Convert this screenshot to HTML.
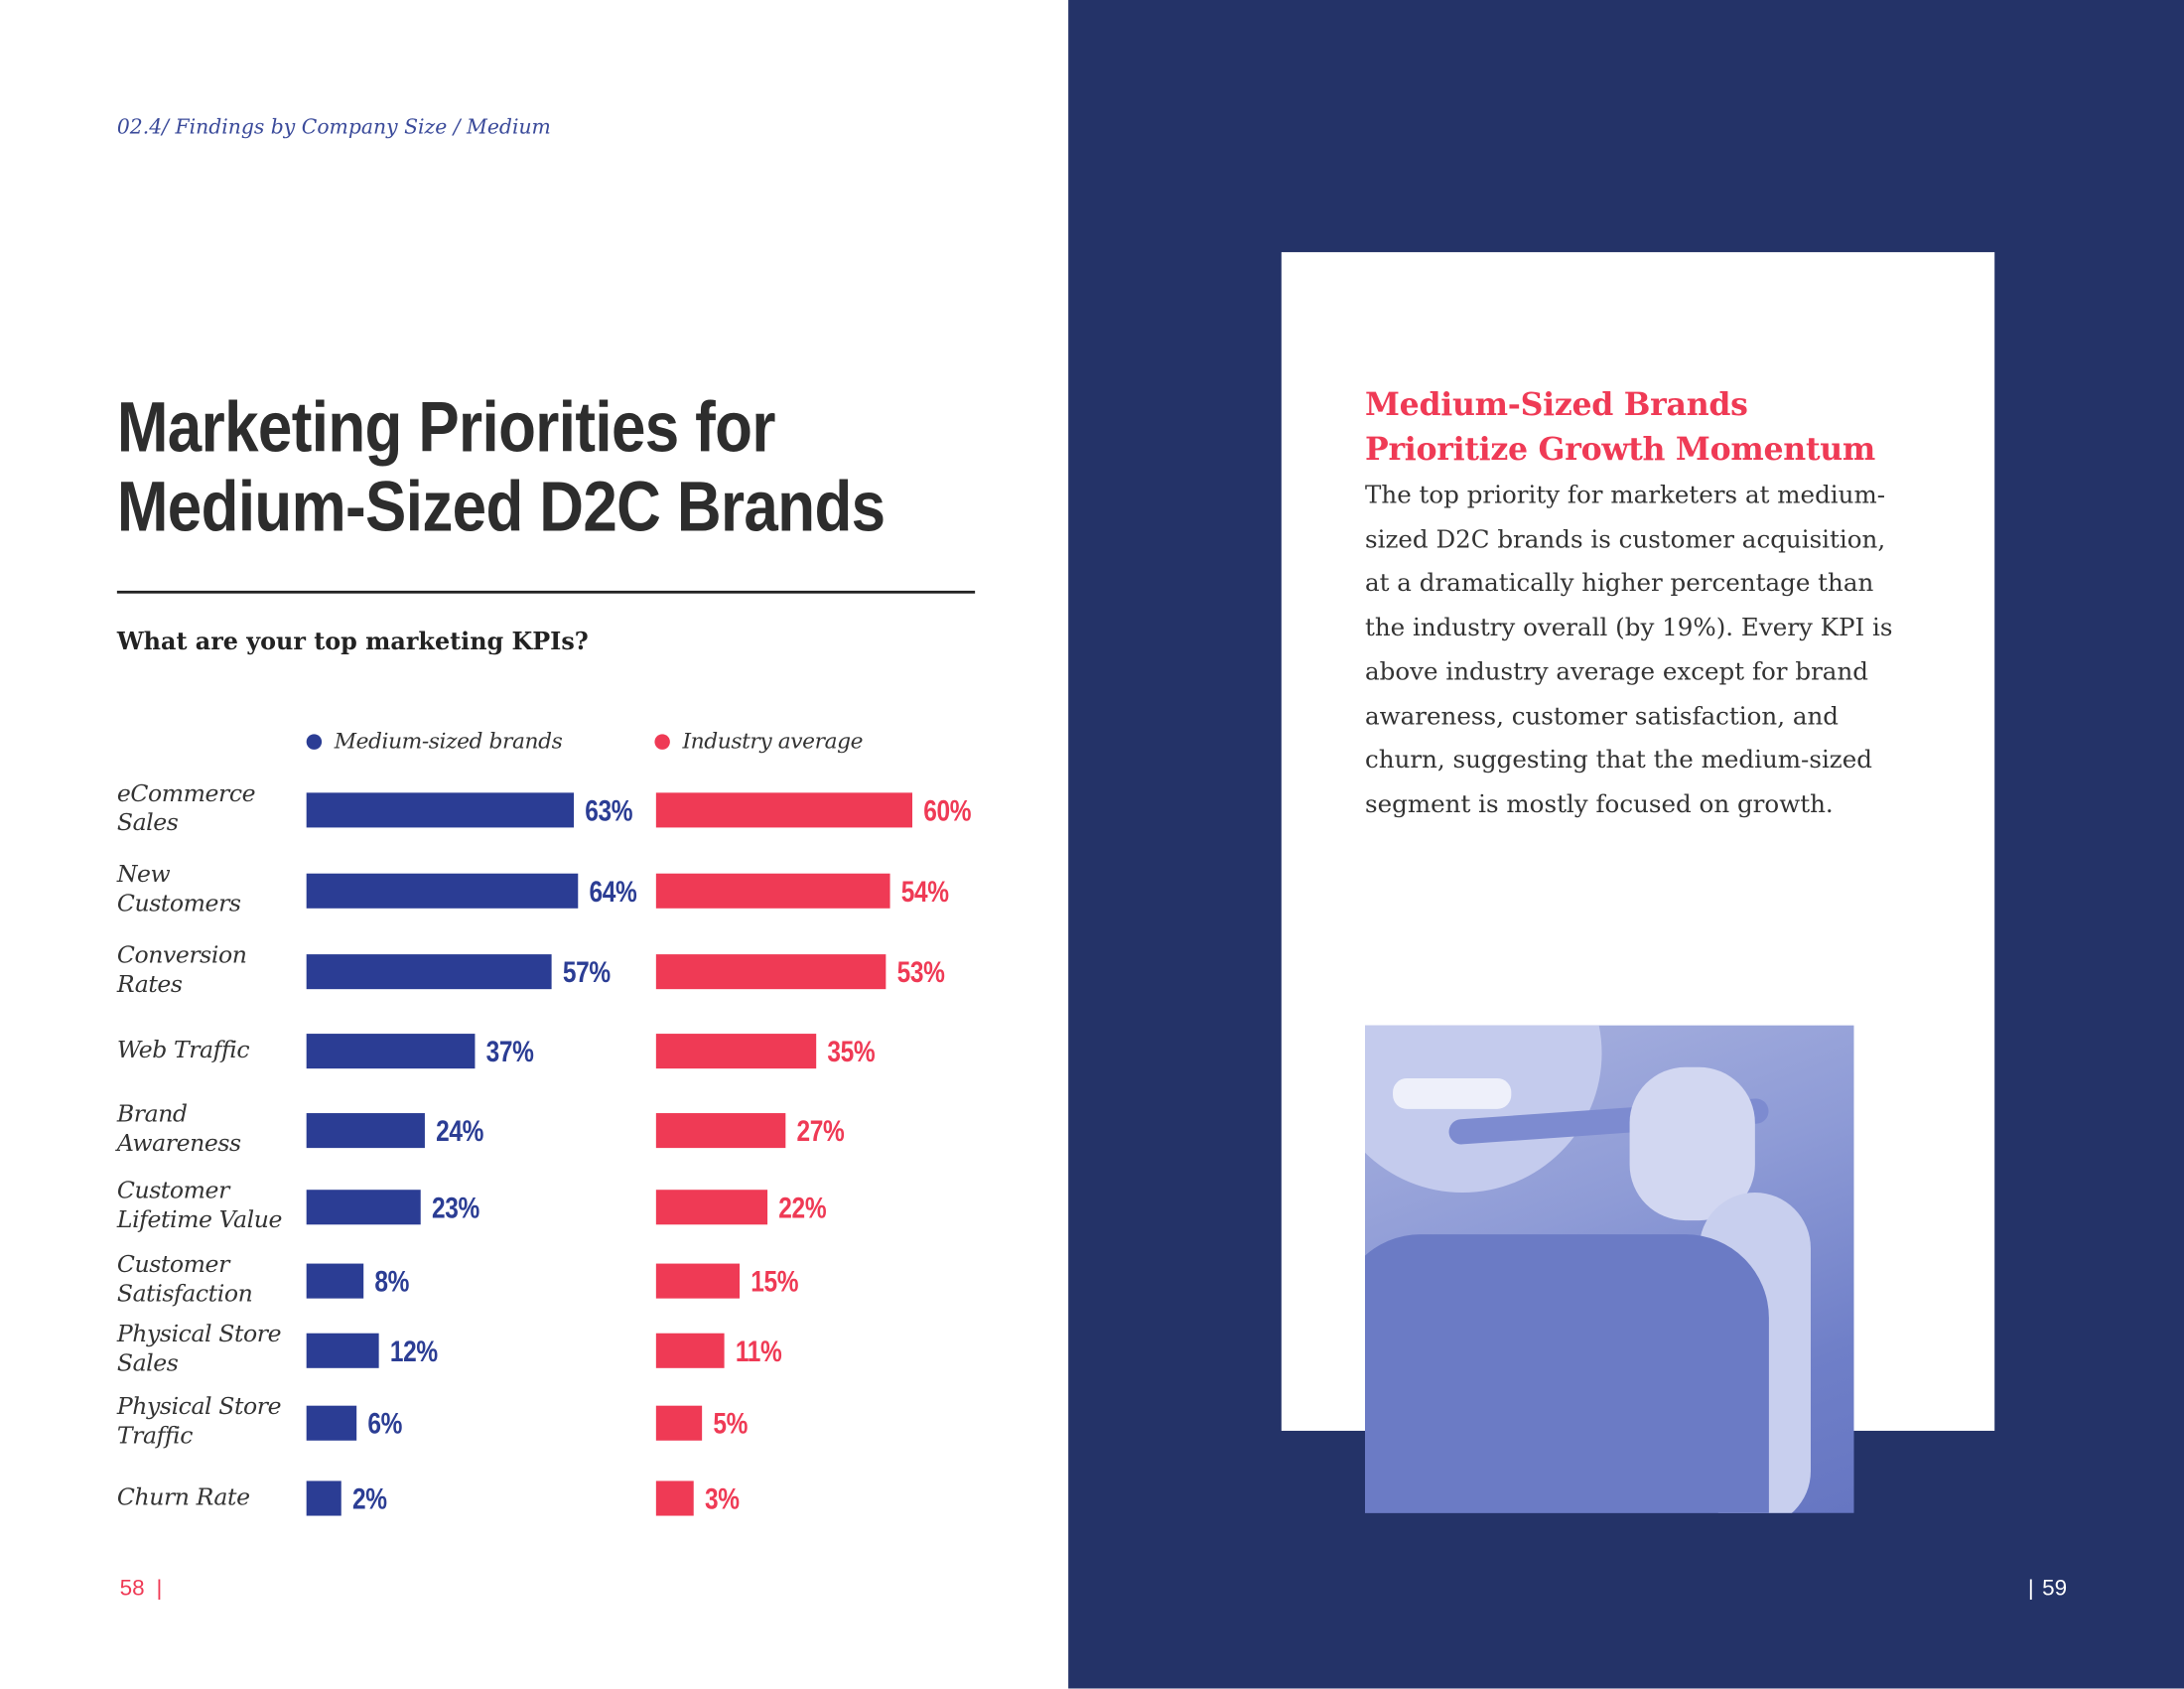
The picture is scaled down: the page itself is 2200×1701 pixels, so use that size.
<!DOCTYPE html>
<html><head><meta charset="utf-8">
<style>
html,body{margin:0;padding:0;width:2200px;height:1700px;overflow:hidden;background:#fff}
#stage{position:absolute;left:0;top:0;width:1568px;height:1212px;transform:scale(1.40306);transform-origin:0 0;background:#fff}
.abs{position:absolute}
.serif{font-family:"DejaVu Serif","Liberation Serif",serif}
.cond{font-family:"Liberation Sans Narrow","Liberation Sans",sans-serif}
.lbl{position:absolute;left:84px;font-family:"DejaVu Serif","Liberation Serif",serif;font-style:italic;font-size:16.8px;line-height:21px;color:#333;letter-spacing:-0.3px}
.bar{position:absolute;height:25px}
.val{position:absolute;font-family:"Liberation Sans",sans-serif;font-weight:bold;font-size:21px;line-height:25px;transform:scaleX(0.83);transform-origin:0 0;letter-spacing:-0.3px}
</style></head><body>
<div id="stage">
  <div class="abs serif" style="left:84px;top:84px;font-size:14.5px;font-style:italic;color:#3a4a9a">02.4/ Findings by Company Size / Medium</div>
  <div class="abs" style="left:84px;top:278px;font-family:'Liberation Sans',sans-serif;font-size:51px;line-height:57px;font-weight:bold;color:#2d2d2d;letter-spacing:-0.5px;transform:scaleX(0.865);transform-origin:0 0;white-space:nowrap">Marketing Priorities for<br>Medium-Sized D2C Brands</div>
  <div class="abs" style="left:84px;top:424px;width:616px;height:2px;background:#222"></div>
  <div class="abs serif" style="left:84px;top:451px;font-size:17px;font-weight:bold;color:#222">What are your top marketing KPIs?</div>
  <div class="abs" style="left:220px;top:527px;width:11px;height:11px;border-radius:50%;background:#2b3d94"></div>
  <div class="abs serif" style="left:240px;top:523px;font-size:15.5px;font-style:italic;color:#333;letter-spacing:-0.3px">Medium-sized brands</div>
  <div class="abs" style="left:470px;top:527px;width:11px;height:11px;border-radius:50%;background:#ef3a55"></div>
  <div class="abs serif" style="left:490px;top:523px;font-size:15.5px;font-style:italic;color:#333;letter-spacing:-0.3px">Industry average</div>
  <div id="chart"></div>

  <div class="abs cond" style="left:86px;top:1132px;font-size:16px;color:#ef3a55">58 <span style="color:#ef3a55;margin-left:4px">|</span></div>

  <div class="abs" style="left:767px;top:0;width:801px;height:1212px;background:#243368"></div>
  <div class="abs" style="left:920px;top:181px;width:512px;height:846px;background:#fff"></div>
  <div class="abs serif" style="left:980px;top:275px;font-size:22.5px;line-height:32px;font-weight:bold;color:#ef3a55;letter-spacing:-0.2px">Medium-Sized Brands<br>Prioritize Growth Momentum</div>
  <div class="abs serif" style="left:980px;top:341px;width:380px;font-size:17.5px;line-height:31.7px;color:#333">The top priority for marketers at medium-sized D2C brands is customer acquisition, at a dramatically higher percentage than the industry overall (by 19%). Every KPI is above industry average except for brand awareness, customer satisfaction, and churn, suggesting that the medium-sized segment is mostly focused on growth.</div>
  <div class="abs" style="left:980px;top:736px;width:351px;height:350px;overflow:hidden;background:linear-gradient(160deg,#aab3e0 0%,#8e9bd6 40%,#6f7fc8 75%,#6676c2 100%)">
    <div class="abs" style="left:-30px;top:-80px;width:200px;height:200px;border-radius:50%;background:#c4cbed"></div>
    <div class="abs" style="left:20px;top:38px;width:85px;height:22px;border-radius:10px;background:#eef0fa"></div>
    <div class="abs" style="left:60px;top:60px;width:230px;height:18px;border-radius:9px;background:#7d8bd0;transform:rotate(-4deg)"></div>
    <div class="abs" style="left:190px;top:30px;width:90px;height:110px;border-radius:40px;background:#d2d7f1"></div>
    <div class="abs" style="left:240px;top:120px;width:80px;height:240px;border-radius:40px;background:#c8cfee"></div>
    <div class="abs" style="left:-20px;top:150px;width:310px;height:260px;border-radius:60px 60px 0 0;background:#6b7bc5"></div>
  </div>
  <div class="abs cond" style="left:1456px;top:1132px;font-size:16px;color:#fff"><span style="margin-right:6px">|</span>59</div>
</div>
<script>
const categories=[["eCommerce","Sales"],["New","Customers"],["Conversion","Rates"],["Web Traffic"],["Brand","Awareness"],["Customer","Lifetime Value"],["Customer","Satisfaction"],["Physical Store","Sales"],["Physical Store","Traffic"],["Churn Rate"]];
const mediumValues=[63,64,57,37,24,23,8,12,6,2];
const industryValues=[60,54,53,35,27,22,15,11,5,3];
const rowCenters=[581,639,697,754,811,866,919,969,1021,1075];
const chart=document.getElementById('chart');
const blueX=220, redX=471, pxPer=2.75, pxBase=19, barH=25;
function xLen(v){return pxBase+v*pxPer;}
function mk(cls,name,style,text){
  const el=document.createElement('div');
  el.className=cls;
  
  
  el.style.cssText=style;
  if(text!==undefined) el.innerHTML=text;
  chart.appendChild(el);
  return el;
}
categories.forEach((c,i)=>{
  const cy=rowCenters[i];
  const lh=c.length*21;
  mk('lbl','category-label',`top:${cy-lh/2-1}px`,c.join('<br>'));
  const bw=xLen(mediumValues[i]);
  mk('bar','bar-medium',`left:${blueX}px;top:${cy-barH/2}px;width:${bw}px;background:#2b3d94`);
  mk('val','value-medium',`left:${blueX+bw+8}px;top:${cy-barH/2+1}px;color:#2b3d94`,mediumValues[i]+'%');
  const rw=xLen(industryValues[i]);
  mk('bar','bar-industry',`left:${redX}px;top:${cy-barH/2}px;width:${rw}px;background:#ef3a55`);
  mk('val','value-industry',`left:${redX+rw+8}px;top:${cy-barH/2+1}px;color:#ef3a55`,industryValues[i]+'%');
});
</script>
</body></html>
